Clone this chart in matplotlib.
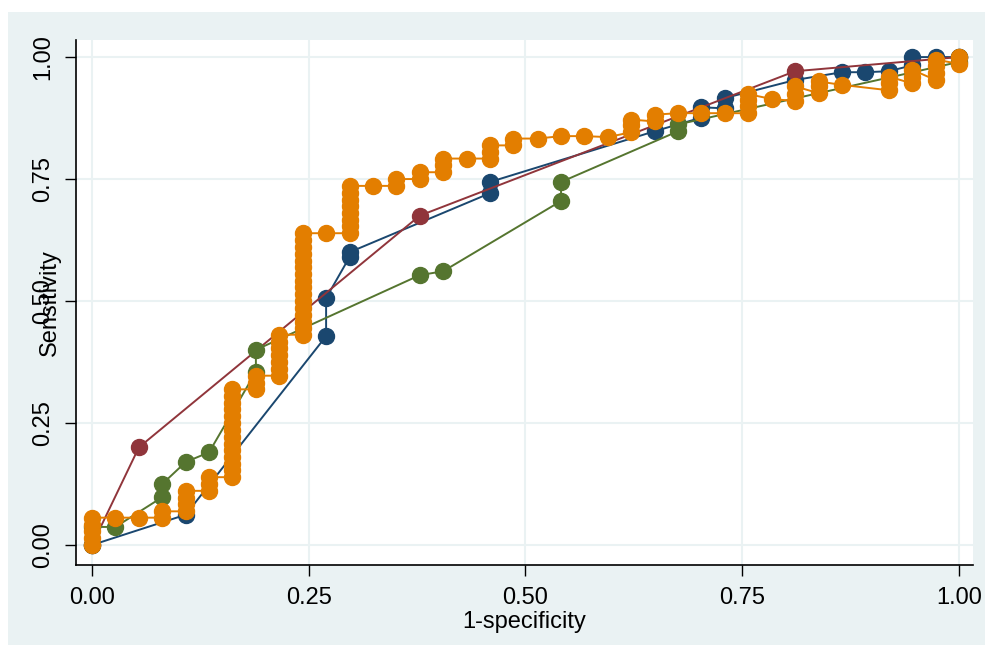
import matplotlib.pyplot as plt
from matplotlib.patches import Rectangle
from matplotlib import font_manager

# === DATA ===
navy_x = [0, 0.108, 0.270, 0.270, 0.297, 0.297, 0.459, 0.459, 0.649, 0.703, 0.703,
          0.730, 0.730, 0.811, 0.865, 0.892, 0.919, 0.946, 0.946, 0.973, 1.0]
navy_y = [0, 0.062, 0.428, 0.506, 0.590, 0.600, 0.721, 0.744, 0.848, 0.876, 0.897,
          0.895, 0.916, 0.953, 0.969, 0.969, 0.971, 0.983, 1.0, 1.0, 1.0]

maroon_x = [0, 0.054, 0.378, 0.811, 1.0]
maroon_y = [0, 0.200, 0.675, 0.971, 1.0]

green_x = [0, 0, 0.027, 0.081, 0.081, 0.108, 0.135, 0.189, 0.189, 0.378, 0.405,
           0.541, 0.541, 0.676, 0.676, 1.0, 1.0]
green_y = [0, 0.037, 0.037, 0.098, 0.125, 0.170, 0.190, 0.355, 0.400, 0.553, 0.561,
           0.705, 0.744, 0.848, 0.862, 0.990, 1.0]

orange_x = [0, 0, 0, 0, 0,
            0.027, 0.054, 0.081, 0.081,
            0.108, 0.108, 0.108, 0.108,
            0.135, 0.135, 0.135,
            0.162, 0.162, 0.162, 0.162, 0.162, 0.162, 0.162, 0.162, 0.162, 0.162,
            0.162, 0.162, 0.162, 0.162,
            0.189, 0.189, 0.189,
            0.216, 0.216, 0.216, 0.216, 0.216, 0.216, 0.216,
            0.243, 0.243, 0.243, 0.243, 0.243, 0.243, 0.243, 0.243, 0.243, 0.243,
            0.243, 0.243, 0.243, 0.243, 0.243, 0.243,
            0.270,
            0.297, 0.297, 0.297, 0.297, 0.297, 0.297, 0.297, 0.297,
            0.324, 0.351, 0.351, 0.378, 0.378, 0.405, 0.405, 0.405,
            0.432, 0.459, 0.459, 0.459, 0.486, 0.486,
            0.514, 0.541, 0.568, 0.595,
            0.622, 0.622, 0.622, 0.649, 0.649, 0.676, 0.703, 0.730,
            0.757, 0.757, 0.757, 0.757, 0.784,
            0.811, 0.811, 0.811, 0.838, 0.838, 0.838, 0.865,
            0.919, 0.919, 0.919, 0.946, 0.946, 0.946,
            0.973, 0.973, 0.973, 0.973, 1.0, 1.0]
orange_y = [0, 0.014, 0.028, 0.042, 0.056,
            0.056, 0.056, 0.056, 0.069,
            0.069, 0.083, 0.097, 0.111,
            0.111, 0.125, 0.139,
            0.139, 0.153, 0.167, 0.181, 0.194, 0.208, 0.222, 0.236, 0.250, 0.264,
            0.278, 0.292, 0.306, 0.319,
            0.319, 0.333, 0.347,
            0.347, 0.361, 0.375, 0.389, 0.403, 0.417, 0.431,
            0.431, 0.444, 0.458, 0.472, 0.486, 0.500, 0.514, 0.528, 0.542, 0.556,
            0.569, 0.583, 0.597, 0.611, 0.625, 0.639,
            0.639,
            0.639, 0.653, 0.667, 0.681, 0.694, 0.708, 0.722, 0.736,
            0.736, 0.736, 0.750, 0.750, 0.764, 0.764, 0.778, 0.792,
            0.792, 0.792, 0.806, 0.819, 0.819, 0.833,
            0.833, 0.838, 0.838, 0.836,
            0.846, 0.860, 0.872, 0.868, 0.882, 0.885, 0.885, 0.885,
            0.885, 0.899, 0.913, 0.924, 0.914,
            0.910, 0.924, 0.940, 0.926, 0.940, 0.950, 0.943,
            0.932, 0.946, 0.960, 0.946, 0.960, 0.974,
            0.953, 0.967, 0.981, 0.995, 0.986, 1.0]

ticks = [0, 0.25, 0.5, 0.75, 1.0]
tick_labels = ["0.00", "0.25", "0.50", "0.75", "1.00"]

# === STYLE ===
bg = "#EAF2F3"
colors = {"navy": "#1a476f", "maroon": "#90353b", "green": "#55752f", "orange": "#e37e00"}

names = [f.name for f in font_manager.fontManager.ttflist]
fam = "Liberation Sans Narrow" if "Liberation Sans Narrow" in names else "Liberation Sans"
plt.rcParams["font.family"] = [fam, "DejaVu Sans"]

fig = plt.figure(figsize=(9.85, 6.45), dpi=100)
fig.patch.set_facecolor("white")
fig.patches.append(Rectangle((8 / 985, 0), 1, 1 - 12 / 645, transform=fig.transFigure,
                             facecolor=bg, edgecolor="none", zorder=-10))

ax = fig.add_axes([76 / 985, 80 / 645, 897 / 985, 525 / 645])
ax.set_facecolor("white")

series = [(navy_x, navy_y, "navy"), (maroon_x, maroon_y, "maroon"),
          (green_x, green_y, "green"), (orange_x, orange_y, "orange")]
for xs, ys, c in series:
    ax.plot(xs, ys, color=colors[c], lw=1.4, marker="o", ms=11.5,
            mec=colors[c], mfc=colors[c], zorder=3)

ax.set_xlim(-0.0185, 1.0162)
ax.set_ylim(-0.041, 1.035)
ax.set_xticks(ticks)
ax.set_xticklabels(tick_labels, fontsize=17)
ax.set_yticks(ticks)
ax.set_yticklabels(tick_labels, fontsize=17, rotation=90, va="center")
ax.grid(True, color=bg, lw=1.5, zorder=0)
ax.set_axisbelow(True)
ax.tick_params(direction="out", length=8, width=1, color="black", pad=8)

for s in ["top", "right"]:
    ax.spines[s].set_visible(False)
for s in ["left", "bottom"]:
    ax.spines[s].set_color("black")
    ax.spines[s].set_linewidth(1.2)

ax.set_xlabel("1-specificity", fontsize=17)
ax.set_ylabel("Sensitivity", fontsize=17)
ax.xaxis.set_label_coords(0.5, -0.108)
ax.yaxis.set_label_coords(-0.029, 0.5)
ax.xaxis.label.set_va("center")
ax.yaxis.label.set_va("center")

plt.savefig("out.png", dpi=100, facecolor=fig.get_facecolor())
print("Saved out.png")
